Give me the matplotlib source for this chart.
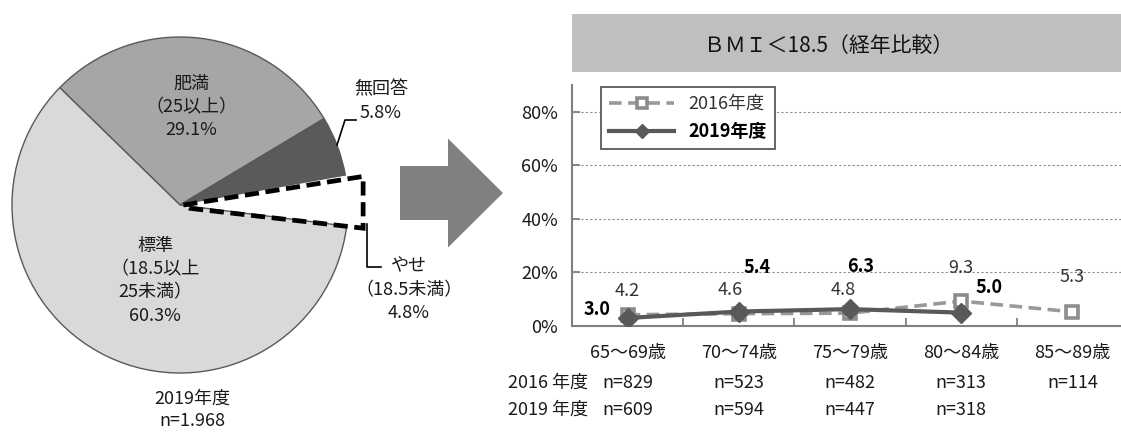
import matplotlib
matplotlib.use("Agg")
from matplotlib import pyplot as plt
from matplotlib.patches import Rectangle, FancyArrow, Polygon
import numpy as np

plt.rcParams['font.family'] = ['Noto Sans CJK JP', 'DejaVu Sans']

# pie data (2019)
pie_labels = ['肥満\n（25以上）\n29.1%', '無回答\n5.8%', 'やせ\n（18.5未満）\n4.8%', '標準\n（18.5以上\n25未満）\n60.3%']
pie_values = [29.1, 5.8, 4.8, 60.3]
pie_colors = ['#a6a6a6', '#5a5a5a', 'white', '#d9d9d9']

# line chart data
ages = ['65～69歳', '70～74歳', '75～79歳', '80～84歳', '85～89歳']
y2016 = [4.2, 4.6, 4.8, 9.3, 5.3]
y2019 = [3.0, 5.4, 6.3, 5.0]
n2016 = ['n=829', 'n=523', 'n=482', 'n=313', 'n=114']
n2019 = ['n=609', 'n=594', 'n=447', 'n=318']

W, H = 1121, 432
fig = plt.figure(figsize=(W / 100, H / 100), dpi=100)

def box(l, t, r, b):
    return [l / W, 1 - b / H, (r - l) / W, (b - t) / H]

# ---- pie ----
cx, cy, R = 180, 205, 168
axp = fig.add_axes(box(cx - R, cy - R, cx + R, cy + R))
wedges, _ = axp.pie(pie_values, colors=pie_colors, startangle=135.7, counterclock=False,
                    wedgeprops=dict(edgecolor='#595959', linewidth=1.0))
wedges[2].set_edgecolor('none')
axp.set_xlim(-1, 1)
axp.set_ylim(-1, 1)
axp.axis('off')

# dashed outline around the やせ slice
t1, t2 = np.radians(wedges[2].theta2), np.radians(wedges[2].theta1)
xr = 1.09
outline = Polygon([(0.02, 0.0), (xr, xr * np.tan(t1) * 0.88), (xr, xr * np.tan(t2)), (0.06, -0.02)],
                  closed=True, fill=False, edgecolor='black', linewidth=3.4,
                  linestyle=(0, (3, 1.4)), clip_on=False, joinstyle='miter')
axp.add_patch(outline)

# overlay in pixel coordinates for free text and shapes
ov = fig.add_axes([0, 0, 1, 1], zorder=5)
ov.set_xlim(0, W)
ov.set_ylim(H, 0)
ov.axis('off')
ov.patch.set_alpha(0)

fs = 13
tc = '#1a1a1a'
ov.text(191, 107, pie_labels[0], ha='center', va='center', fontsize=fs, linespacing=1.38, color=tc)
ov.text(155, 281, pie_labels[3], ha='center', va='center', fontsize=fs, linespacing=1.38, color=tc)
ov.text(381, 101, pie_labels[1], ha='center', va='center', fontsize=fs, linespacing=1.38, color=tc)
ov.text(409, 290, pie_labels[2], ha='center', va='center', fontsize=fs, linespacing=1.38, color=tc)
ov.text(192, 410, '2019年度\nn=1.968', ha='center', va='center', fontsize=fs, linespacing=1.35, color=tc)
ov.plot([337, 345, 356], [145, 120, 120], color='black', lw=1.2)
ov.plot([367, 367, 381], [224, 267, 267], color='black', lw=1.2)

# big arrow
ov.add_patch(FancyArrow(400, 193, 103, 0, width=54, head_width=109, head_length=55,
                        length_includes_head=True, color='#808080', linewidth=0))

# title box
ov.add_patch(Rectangle((572, 14), W - 572, 58, facecolor='#bfbfbf', edgecolor='none'))
ov.text(829, 46, 'ＢＭＩ＜18.5（経年比較）', ha='center', va='center', fontsize=15, color='#111111')

# ---- line chart ----
ax = fig.add_axes(box(572, 85, 1128, 326))
x16 = np.arange(len(y2016))
x19 = np.arange(len(y2019))
v16 = np.array(y2016) / 100
v19 = np.array(y2019) / 100
ax.plot(x16, v16, color='#999999', lw=2.6, linestyle=(0, (3.5, 1.8)), marker='s', markersize=9,
        markerfacecolor='white', markeredgecolor='#8c8c8c', markeredgewidth=2.6, label='2016年度', zorder=3)
ax.plot(x19, v19, color='#595959', lw=3, marker='D', markersize=10, markerfacecolor='#595959',
        markeredgecolor='#595959', label='2019年度', zorder=4)

ax.set_xlim(-0.5, 4.5)
ax.set_ylim(0, 0.9)
ax.set_yticks([0, 0.2, 0.4, 0.6, 0.8])
ax.set_yticklabels(['0%', '20%', '40%', '60%', '80%'])
ax.yaxis.grid(True, color='#8c8c8c', linestyle=(0, (2, 2)), linewidth=0.8)
ax.set_axisbelow(True)
ax.set_xticks(np.arange(0.5, 4.5, 1))
ax.set_xticklabels([])
ax.set_xticks(x16, minor=True)
ax.set_xticklabels(ages, minor=True)
ax.tick_params(axis='x', which='major', direction='in', length=6, color='#808080', width=1.3)
ax.tick_params(axis='x', which='minor', length=0, pad=13, labelsize=fs, labelcolor=tc)
ax.tick_params(axis='y', direction='in', length=6, color='#808080', width=1.3, pad=10,
               labelsize=fs, labelcolor=tc)
for s in ['top', 'right']:
    ax.spines[s].set_visible(False)
for s in ['left', 'bottom']:
    ax.spines[s].set_color('#808080')
    ax.spines[s].set_linewidth(1.5)

# data labels
off16 = [(0, 17), (-6, 17), (-5, 17), (0, 24), (0, 25)]
for xi, v, o in zip(x16, y2016, off16):
    ax.annotate(f'{v:.1f}', (xi, v / 100), xytext=o, textcoords='offset points',
                ha='center', va='center', fontsize=fs, color='#333333')
off19 = [(-22, 6), (13, 32), (8, 31), (20, 18)]
for xi, v, o in zip(x19, y2019, off19):
    ax.annotate(f'{v:.1f}', (xi, v / 100), xytext=o, textcoords='offset points',
                ha='center', va='center', fontsize=fs, fontweight='bold', color='black')

# sample sizes
tr = ax.get_xaxis_transform()
for xi, t in zip(x16, n2016):
    ax.text(xi, -0.237, t, transform=tr, ha='center', va='center', fontsize=fs, color=tc)
for xi, t in zip(x19, n2019):
    ax.text(xi, -0.349, t, transform=tr, ha='center', va='center', fontsize=fs, color=tc)
ax.text(-0.355, -0.237, '2016 年度', transform=tr, ha='right', va='center', fontsize=fs, color=tc)
ax.text(-0.355, -0.349, '2019 年度', transform=tr, ha='right', va='center', fontsize=fs, color=tc)

leg = ax.legend(loc='upper left', bbox_to_anchor=(601 / W, 1 - 87 / H), bbox_transform=fig.transFigure,
                borderaxespad=0, fancybox=False, framealpha=1, edgecolor='#595959', fontsize=fs,
                handlelength=3.6, labelspacing=0.5, borderpad=0.45, markerscale=0.75)
leg.get_frame().set_linewidth(1.3)
leg.get_texts()[1].set_fontweight('bold')
leg.get_texts()[0].set_color('#333333')

fig.savefig('out.png', dpi=100)
